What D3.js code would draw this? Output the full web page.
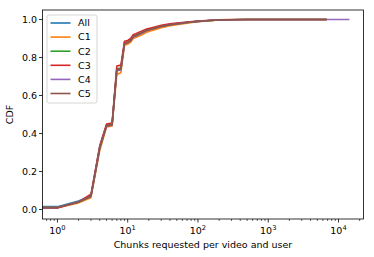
<!doctype html>
<html>
<head>
<script src="https://d3js.org/d3.v7.min.js"></script>
<style>
  body { margin: 0; background: #fff; }
  text { font-family: "DejaVu Sans", sans-serif; fill: #000; }
</style>
</head>
<body>
<svg id="chart" width="374" height="257"></svg>
<script>
// chunk counts (x) and CDF values per series
const xs = [0.5, 1, 2, 3, 4, 5, 6, 7, 8, 9, 10, 11, 12, 13, 14, 15, 16, 18, 20, 25, 30, 40, 50, 70, 100, 150, 200, 300, 500, 1000, 3000, 6800];
const xsLong = xs.concat([14300]);

const seriesNames = ["All", "C1", "C2", "C3", "C4", "C5"];
const colors = ["#1f77b4", "#ff7f0e", "#2ca02c", "#d62728", "#9467bd", "#8c564b"];

const cdfAll = [0.015, 0.015, 0.045, 0.072, 0.33, 0.445, 0.45, 0.735, 0.74, 0.875, 0.88, 0.89, 0.91, 0.915, 0.92, 0.925, 0.93, 0.94, 0.945, 0.955, 0.963, 0.972, 0.977, 0.984, 0.99, 0.995, 0.998, 0.999, 1, 1, 1, 1];
const cdfC1 = [0.01, 0.01, 0.035, 0.062, 0.31, 0.435, 0.44, 0.71, 0.72, 0.865, 0.87, 0.88, 0.9, 0.905, 0.91, 0.915, 0.92, 0.93, 0.937, 0.948, 0.957, 0.967, 0.973, 0.981, 0.988, 0.994, 0.997, 0.999, 1, 1, 1, 1];
const cdfC2 = [0.01, 0.01, 0.04, 0.07, 0.325, 0.443, 0.448, 0.74, 0.745, 0.877, 0.882, 0.892, 0.912, 0.917, 0.922, 0.927, 0.932, 0.941, 0.947, 0.957, 0.965, 0.973, 0.978, 0.985, 0.991, 0.995, 0.998, 0.999, 1, 1, 1, 1];
const cdfC3 = [0.008, 0.008, 0.04, 0.08, 0.335, 0.45, 0.455, 0.755, 0.76, 0.885, 0.89, 0.9, 0.92, 0.925, 0.93, 0.935, 0.94, 0.948, 0.953, 0.962, 0.969, 0.977, 0.981, 0.987, 0.992, 0.996, 0.998, 1, 1, 1, 1, 1];
const cdfC4 = [0.01, 0.01, 0.04, 0.07, 0.325, 0.44, 0.445, 0.73, 0.735, 0.872, 0.878, 0.888, 0.908, 0.913, 0.918, 0.924, 0.929, 0.939, 0.945, 0.955, 0.963, 0.972, 0.977, 0.984, 0.99, 0.995, 0.998, 0.999, 1, 1, 1, 1, 1];
const cdfC5 = [0.01, 0.01, 0.04, 0.07, 0.322, 0.44, 0.445, 0.735, 0.74, 0.873, 0.879, 0.889, 0.909, 0.914, 0.919, 0.925, 0.93, 0.94, 0.946, 0.956, 0.964, 0.972, 0.977, 0.984, 0.99, 0.995, 0.998, 0.999, 1, 1, 1, 1];

const yTicks = [0.0, 0.2, 0.4, 0.6, 0.8, 1.0];
const xTickExps = [0, 1, 2, 3, 4];

const series = [
  {name: "All", x: xs, y: cdfAll},
  {name: "C1", x: xs, y: cdfC1},
  {name: "C2", x: xs, y: cdfC2},
  {name: "C3", x: xs, y: cdfC3},
  {name: "C4", x: xsLong, y: cdfC4},
  {name: "C5", x: xs, y: cdfC5}
];

const svg = d3.select("#chart");
const margin = {top: 10, right: 10.5, bottom: 38, left: 42.5};
const width = 374, height = 257;
const innerW = width - margin.left - margin.right;
const innerH = height - margin.top - margin.bottom;

const x = d3.scaleLog().domain([0.613, 22700]).range([0, innerW]);
const y = d3.scaleLinear().domain([-0.05, 1.05]).range([innerH, 0]);

const g = svg.append("g").attr("transform", `translate(${margin.left},${margin.top})`);

svg.append("defs").append("clipPath").attr("id", "clip")
  .append("rect").attr("width", innerW).attr("height", innerH);

// lines
const line = d3.line().x(d => x(d[0])).y(d => y(d[1]));
const lines = g.append("g").attr("clip-path", "url(#clip)");
series.forEach((s, i) => {
  lines.append("path")
    .datum(s.x.map((v, j) => [v, s.y[j]]))
    .attr("d", line)
    .attr("fill", "none")
    .attr("stroke", colors[i])
    .attr("stroke-width", 1.6)
    .attr("stroke-linejoin", "round");
});

// y axis ticks
yTicks.forEach(t => {
  const yy = y(t);
  g.append("line").attr("x1", -3.5).attr("x2", 0).attr("y1", yy).attr("y2", yy)
    .attr("stroke", "#000").attr("stroke-width", 0.8);
  g.append("text").attr("x", -5.5).attr("y", yy).attr("dy", "0.35em")
    .attr("text-anchor", "end").attr("font-size", 9.5).text(t.toFixed(1));
});

// x axis minor ticks
const minor = [];
for (let e = -1; e <= 4; e++) {
  for (let m = 2; m <= 9; m++) {
    const v = m * Math.pow(10, e);
    if (v >= x.domain()[0] && v <= x.domain()[1]) minor.push(v);
  }
}
minor.forEach(v => {
  g.append("line").attr("x1", x(v)).attr("x2", x(v)).attr("y1", innerH).attr("y2", innerH + 2)
    .attr("stroke", "#000").attr("stroke-width", 0.6);
});
xTickExps.forEach(e => {
  const xx = x(Math.pow(10, e));
  g.append("line").attr("x1", xx).attr("x2", xx).attr("y1", innerH).attr("y2", innerH + 3.5)
    .attr("stroke", "#000").attr("stroke-width", 0.8);
  const t = g.append("text").attr("x", xx).attr("y", innerH + 15)
    .attr("text-anchor", "middle").attr("font-size", 9.5);
  t.append("tspan").text("10");
  t.append("tspan").attr("dy", -4).attr("font-size", 6.7).text(e);
});

// frame
g.append("rect").attr("width", innerW).attr("height", innerH)
  .attr("fill", "none").attr("stroke", "#000").attr("stroke-width", 0.8);

// axis labels
g.append("text").attr("x", innerW / 2).attr("y", innerH + 28.5)
  .attr("text-anchor", "middle").attr("font-size", 9.5)
  .text("Chunks requested per video and user");
g.append("text").attr("transform", `translate(${-30},${innerH / 2}) rotate(-90)`)
  .attr("text-anchor", "middle").attr("font-size", 9.5).text("CDF");

// legend
const leg = g.append("g").attr("transform", "translate(4.5,5)");
leg.append("rect").attr("width", 50).attr("height", 88).attr("rx", 2)
  .attr("fill", "#fff").attr("fill-opacity", 0.8)
  .attr("stroke", "#ccc").attr("stroke-width", 0.8);
seriesNames.forEach((n, i) => {
  const ly = 8 + i * 14.1;
  leg.append("line").attr("x1", 3.5).attr("x2", 23.5).attr("y1", ly).attr("y2", ly)
    .attr("stroke", colors[i]).attr("stroke-width", 1.6);
  leg.append("text").attr("x", 31).attr("y", ly).attr("dy", "0.35em")
    .attr("font-size", 9.5).text(n);
});
</script>
</body>
</html>
